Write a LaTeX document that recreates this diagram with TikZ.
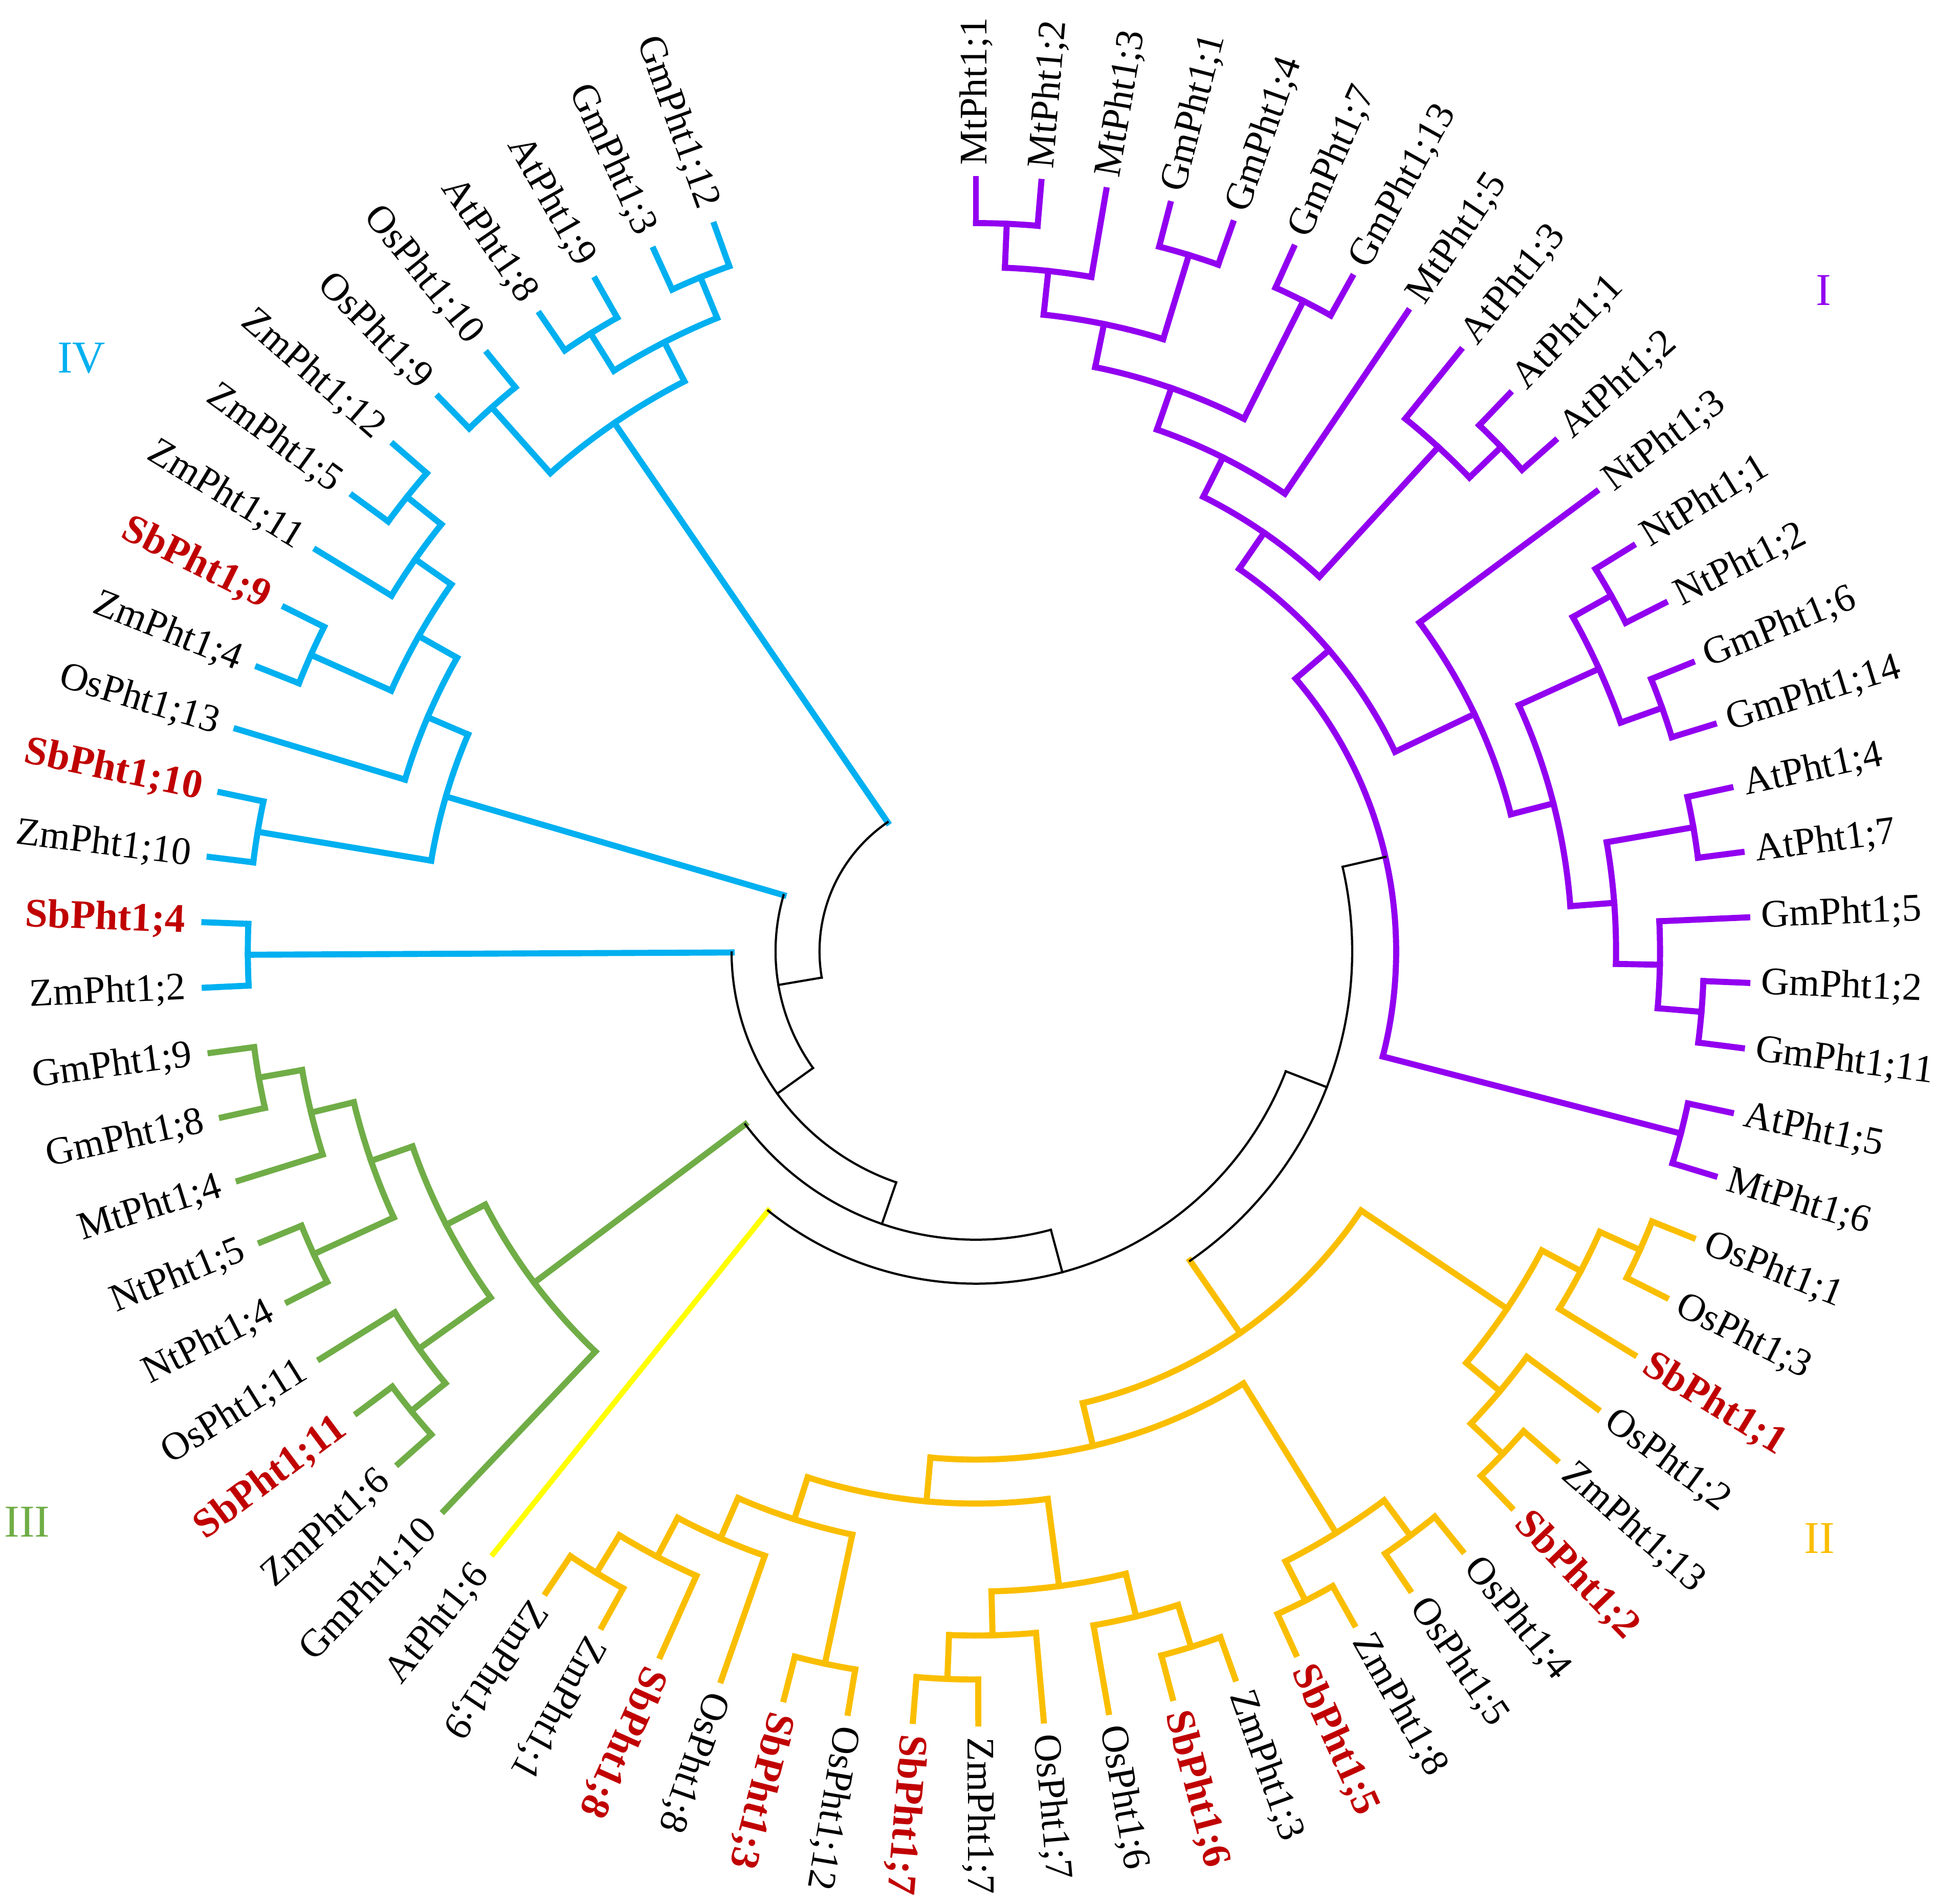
\documentclass[tikz,border=0pt]{standalone}
\usepackage{fontspec}
\setmainfont{Liberation Serif}
\usetikzlibrary{positioning}
\definecolor{cladeI}{RGB}{146,0,240}
\definecolor{cladeII}{RGB}{250,190,0}
\definecolor{cladeIII}{RGB}{112,173,71}
\definecolor{cladeIV}{RGB}{0,176,240}
\definecolor{cladeY}{RGB}{255,255,0}
\definecolor{sbred}{RGB}{192,0,0}

% leaf: name, slot, text, label style, branch style
\newcommand{\leaf}[5]{%
  \pgfmathsetmacro{\angL}{90-(#2-1)*4.86}%
  \expandafter\xdef\csname ang@#1\endcsname{\angL}%
  \tikzset{stem #1/.style={#5}}%
  \coordinate (#1) at (\angL:625);
  \ifnum#2<46
    \node[#4, anchor=west, rotate=\angL] (#1-t) at (\angL:636) {#3};
  \else
    \node[#4, anchor=east, rotate=\angL+180] (#1-t) at (\angL:640) {#3};
  \fi
}
% clade: name, child 1, child 2, level, arc style, branch style
\newcommand{\clade}[6]{%
  \edef\angA{\csname ang@#2\endcsname}%
  \edef\angB{\csname ang@#3\endcsname}%
  \pgfmathsetmacro{\angM}{(\angA+\angB)/2}%
  \pgfmathsetmacro{\radN}{625-35.6*#4}%
  \expandafter\xdef\csname ang@#1\endcsname{\angM}%
  \tikzset{stem #1/.style={#6}}%
  \coordinate (#1) at (\angM:\radN);
  \coordinate (#1-a) at (\angA:\radN);
  \coordinate (#1-b) at (\angB:\radN);
  \draw[stem #2] (#2) -- (#1-a);
  \draw[stem #3] (#3) -- (#1-b);
  \draw[#5] (#1-a) arc[start angle=\angA, end angle=\angB, radius=\radN];
}

\begin{document}
\begin{tikzpicture}
    [
        x=0.2mm, y=0.2mm,
        taxon_lbl/.style={font=\fontsize{18}{20}\selectfont, inner sep=0pt},
        sb_lbl/.style={taxon_lbl, font=\fontsize{18.7}{21}\selectfont\bfseries, text=sbred},
        clade_lbl/.style={font=\fontsize{21}{24}\selectfont, inner sep=0pt},
        purple_line/.style={draw=cladeI, line width=2.8pt, line cap=rect},
        orange_line/.style={draw=cladeII, line width=2.8pt, line cap=rect},
        green_line/.style={draw=cladeIII, line width=2.8pt, line cap=rect},
        blue_line/.style={draw=cladeIV, line width=2.8pt, line cap=rect},
        yellow_line/.style={draw=cladeY, line width=2.5pt, line cap=rect},
        black_line/.style={draw=black, line width=1pt, line cap=rect},
    ]
  \useasboundingbox (-790,-771) rectangle (778,770);

  % clade I
  \leaf{Mt1}{1}{MtPht1;1}{taxon_lbl}{purple_line}
  \leaf{Mt2}{2}{MtPht1;2}{taxon_lbl}{purple_line}
  \leaf{Mt3}{3}{MtPht1;3}{taxon_lbl}{purple_line}
  \leaf{Gm1}{4}{GmPht1;1}{taxon_lbl}{purple_line}
  \leaf{Gm4}{5}{GmPht1;4}{taxon_lbl}{purple_line}
  \leaf{Gm7}{6}{GmPht1;7}{taxon_lbl}{purple_line}
  \leaf{Gm13}{7}{GmPht1;13}{taxon_lbl}{purple_line}
  \leaf{Mt5}{8}{MtPht1;5}{taxon_lbl}{purple_line}
  \leaf{At3}{9}{AtPht1;3}{taxon_lbl}{purple_line}
  \leaf{At1}{10}{AtPht1;1}{taxon_lbl}{purple_line}
  \leaf{At2}{11}{AtPht1;2}{taxon_lbl}{purple_line}
  \leaf{Nt3}{12}{NtPht1;3}{taxon_lbl}{purple_line}
  \leaf{Nt1}{13}{NtPht1;1}{taxon_lbl}{purple_line}
  \leaf{Nt2}{14}{NtPht1;2}{taxon_lbl}{purple_line}
  \leaf{Gm6}{15}{GmPht1;6}{taxon_lbl}{purple_line}
  \leaf{Gm14}{16}{GmPht1;14}{taxon_lbl}{purple_line}
  \leaf{At4}{17}{AtPht1;4}{taxon_lbl}{purple_line}
  \leaf{At7}{18}{AtPht1;7}{taxon_lbl}{purple_line}
  \leaf{Gm5}{19}{GmPht1;5}{taxon_lbl}{purple_line}
  \leaf{Gm2}{20}{GmPht1;2}{taxon_lbl}{purple_line}
  \leaf{Gm11}{21}{GmPht1;11}{taxon_lbl}{purple_line}
  \leaf{At5}{22}{AtPht1;5}{taxon_lbl}{purple_line}
  \leaf{Mt6}{23}{MtPht1;6}{taxon_lbl}{purple_line}

  % clade II
  \leaf{Os1}{24}{OsPht1;1}{taxon_lbl}{orange_line}
  \leaf{Os3}{25}{OsPht1;3}{taxon_lbl}{orange_line}
  \leaf{Sb1}{26}{SbPht1;1}{sb_lbl}{orange_line}
  \leaf{Os2}{27}{OsPht1;2}{taxon_lbl}{orange_line}
  \leaf{Zm13}{28}{ZmPht1;13}{taxon_lbl}{orange_line}
  \leaf{Sb2}{29}{SbPht1;2}{sb_lbl}{orange_line}
  \leaf{Os4}{30}{OsPht1;4}{taxon_lbl}{orange_line}
  \leaf{Os5}{31}{OsPht1;5}{taxon_lbl}{orange_line}
  \leaf{Zm8}{32}{ZmPht1;8}{taxon_lbl}{orange_line}
  \leaf{Sb5}{33}{SbPht1;5}{sb_lbl}{orange_line}
  \leaf{Zm3}{34}{ZmPht1;3}{taxon_lbl}{orange_line}
  \leaf{Sb6}{35}{SbPht1;6}{sb_lbl}{orange_line}
  \leaf{Os6}{36}{OsPht1;6}{taxon_lbl}{orange_line}
  \leaf{Os7}{37}{OsPht1;7}{taxon_lbl}{orange_line}
  \leaf{Zm7}{38}{ZmPht1;7}{taxon_lbl}{orange_line}
  \leaf{Sb7}{39}{SbPht1;7}{sb_lbl}{orange_line}
  \leaf{Os12}{40}{OsPht1;12}{taxon_lbl}{orange_line}
  \leaf{Sb3}{41}{SbPht1;3}{sb_lbl}{orange_line}
  \leaf{Os8}{42}{OsPht1;8}{taxon_lbl}{orange_line}
  \leaf{Sb8}{43}{SbPht1;8}{sb_lbl}{orange_line}
  \leaf{Zm1}{44}{ZmPht1;1}{taxon_lbl}{orange_line}
  \leaf{Zm9}{45}{ZmPht1;9}{taxon_lbl}{orange_line}

  % AtPht1;6
  \leaf{At6}{46}{AtPht1;6}{taxon_lbl}{yellow_line}

  % clade III
  \leaf{Gm10}{47}{GmPht1;10}{taxon_lbl}{green_line}
  \leaf{Zm6}{48}{ZmPht1;6}{taxon_lbl}{green_line}
  \leaf{Sb11}{49}{SbPht1;11}{sb_lbl}{green_line}
  \leaf{Os11}{50}{OsPht1;11}{taxon_lbl}{green_line}
  \leaf{Nt4}{51}{NtPht1;4}{taxon_lbl}{green_line}
  \leaf{Nt5}{52}{NtPht1;5}{taxon_lbl}{green_line}
  \leaf{Mt4}{53}{MtPht1;4}{taxon_lbl}{green_line}
  \leaf{Gm8}{54}{GmPht1;8}{taxon_lbl}{green_line}
  \leaf{Gm9}{55}{GmPht1;9}{taxon_lbl}{green_line}

  % clade IV
  \leaf{Zm2}{56}{ZmPht1;2}{taxon_lbl}{blue_line}
  \leaf{Sb4}{57}{SbPht1;4}{sb_lbl}{blue_line}
  \leaf{Zm10}{58}{ZmPht1;10}{taxon_lbl}{blue_line}
  \leaf{Sb10}{59}{SbPht1;10}{sb_lbl}{blue_line}
  \leaf{Os13}{60}{OsPht1;13}{taxon_lbl}{blue_line}
  \leaf{Zm4}{61}{ZmPht1;4}{taxon_lbl}{blue_line}
  \leaf{Sb9}{62}{SbPht1;9}{sb_lbl}{blue_line}
  \leaf{Zm11}{63}{ZmPht1;11}{taxon_lbl}{blue_line}
  \leaf{Zm5}{64}{ZmPht1;5}{taxon_lbl}{blue_line}
  \leaf{Zm12}{65}{ZmPht1;12}{taxon_lbl}{blue_line}
  \leaf{Os9}{66}{OsPht1;9}{taxon_lbl}{blue_line}
  \leaf{Os10}{67}{OsPht1;10}{taxon_lbl}{blue_line}
  \leaf{At8}{68}{AtPht1;8}{taxon_lbl}{blue_line}
  \leaf{At9}{69}{AtPht1;9}{taxon_lbl}{blue_line}
  \leaf{Gm3}{70}{GmPht1;3}{taxon_lbl}{blue_line}
  \leaf{Gm12}{71}{GmPht1;12}{taxon_lbl}{blue_line}

  % joins in clade I
  \clade{pA}{Mt1}{Mt2}{1}{purple_line}{purple_line}
  \clade{pB}{pA}{Mt3}{2}{purple_line}{purple_line}
  \clade{pC}{Gm1}{Gm4}{1}{purple_line}{purple_line}
  \clade{pD}{pB}{pC}{3}{purple_line}{purple_line}
  \clade{pE}{Gm7}{Gm13}{1}{purple_line}{purple_line}
  \clade{pF}{pD}{pE}{4}{purple_line}{purple_line}
  \clade{pG}{pF}{Mt5}{5}{purple_line}{purple_line}
  \clade{pH}{At1}{At2}{1}{purple_line}{purple_line}
  \clade{pI}{At3}{pH}{2}{purple_line}{purple_line}
  \clade{pJ}{pG}{pI}{6}{purple_line}{purple_line}
  \clade{pK}{Nt1}{Nt2}{1}{purple_line}{purple_line}
  \clade{pL}{Gm6}{Gm14}{1}{purple_line}{purple_line}
  \clade{pM}{pK}{pL}{2}{purple_line}{purple_line}
  \clade{pN}{At4}{At7}{1}{purple_line}{purple_line}
  \clade{pO}{Gm2}{Gm11}{1}{purple_line}{purple_line}
  \clade{pP}{Gm5}{pO}{2}{purple_line}{purple_line}
  \clade{pQ}{pN}{pP}{3}{purple_line}{purple_line}
  \clade{pR}{pM}{pQ}{4}{purple_line}{purple_line}
  \clade{pS}{Nt3}{pR}{5}{purple_line}{purple_line}
  \clade{pT}{pJ}{pS}{7}{purple_line}{purple_line}
  \clade{pU}{At5}{Mt6}{1}{purple_line}{purple_line}
  \clade{pRoot}{pT}{pU}{8}{purple_line}{black_line}

  % joins in clade II
  \clade{oA}{Os1}{Os3}{1}{orange_line}{orange_line}
  \clade{oB}{oA}{Sb1}{2}{orange_line}{orange_line}
  \clade{oC}{Zm13}{Sb2}{1}{orange_line}{orange_line}
  \clade{oD}{Os2}{oC}{2}{orange_line}{orange_line}
  \clade{oE}{oB}{oD}{3}{orange_line}{orange_line}
  \clade{oF}{Os4}{Os5}{1}{orange_line}{orange_line}
  \clade{oG}{Zm8}{Sb5}{1}{orange_line}{orange_line}
  \clade{oH}{oF}{oG}{2}{orange_line}{orange_line}
  \clade{oI}{Zm3}{Sb6}{1}{orange_line}{orange_line}
  \clade{oJ}{oI}{Os6}{2}{orange_line}{orange_line}
  \clade{oK}{Zm7}{Sb7}{1}{orange_line}{orange_line}
  \clade{oL}{Os7}{oK}{2}{orange_line}{orange_line}
  \clade{oM}{oJ}{oL}{3}{orange_line}{orange_line}
  \clade{oN}{Os12}{Sb3}{1}{orange_line}{orange_line}
  \clade{oO}{Zm1}{Zm9}{1}{orange_line}{orange_line}
  \clade{oP}{Sb8}{oO}{2}{orange_line}{orange_line}
  \clade{oQ}{Os8}{oP}{3}{orange_line}{orange_line}
  \clade{oR}{oN}{oQ}{4}{orange_line}{orange_line}
  \clade{oS}{oM}{oR}{5}{orange_line}{orange_line}
  \clade{oT}{oH}{oS}{6}{orange_line}{orange_line}
  \clade{oRoot}{oE}{oT}{7}{orange_line}{orange_line}

  % joins in clade III
  \clade{gA}{Gm9}{Gm8}{1}{green_line}{green_line}
  \clade{gB}{gA}{Mt4}{2}{green_line}{green_line}
  \clade{gC}{Nt5}{Nt4}{1}{green_line}{green_line}
  \clade{gD}{gB}{gC}{3}{green_line}{green_line}
  \clade{gE}{Sb11}{Zm6}{1}{green_line}{green_line}
  \clade{gF}{Os11}{gE}{2}{green_line}{green_line}
  \clade{gG}{gD}{gF}{4}{green_line}{green_line}
  \clade{gRoot}{gG}{Gm10}{5}{green_line}{green_line}

  % joins in clade IV
  \clade{bA}{Sb4}{Zm2}{1}{blue_line}{blue_line}
  \clade{bB}{Zm10}{Sb10}{1}{blue_line}{blue_line}
  \clade{bC}{Zm4}{Sb9}{1}{blue_line}{blue_line}
  \clade{bD}{Zm5}{Zm12}{1}{blue_line}{blue_line}
  \clade{bE}{Zm11}{bD}{2}{blue_line}{blue_line}
  \clade{bF}{bC}{bE}{3}{blue_line}{blue_line}
  \clade{bG}{Os13}{bF}{4}{blue_line}{blue_line}
  \clade{bH}{bB}{bG}{5}{blue_line}{blue_line}
  \clade{bI}{Os9}{Os10}{1}{blue_line}{blue_line}
  \clade{bJ}{At8}{At9}{1}{blue_line}{blue_line}
  \clade{bK}{Gm3}{Gm12}{1}{blue_line}{blue_line}
  \clade{bL}{bJ}{bK}{2}{blue_line}{blue_line}
  \clade{bM}{bI}{bL}{3}{blue_line}{blue_line}

  % backbone
  \clade{kF}{oRoot}{pRoot}{9}{black_line}{black_line}
  \clade{kE}{At6}{kF}{10}{black_line}{black_line}
  \clade{kD}{gRoot}{kE}{11}{black_line}{black_line}
  \clade{kC}{bA}{kD}{12}{black_line}{black_line}
  \clade{kB}{bH}{kC}{13}{black_line}{black_line}
  \clade{kA}{bM}{kB}{14}{black_line}{black_line}

  \node[clade_lbl, text=cladeI] (labI) at (686,535) {I};
  \node[clade_lbl, text=cladeII] (labII) at (683,-475) {II};
  \node[clade_lbl, text=cladeIII] (labIII) at (-768,-462) {III};
  \node[clade_lbl, text=cladeIV] (labIV) at (-724,480) {IV};
\end{tikzpicture}
\end{document}
